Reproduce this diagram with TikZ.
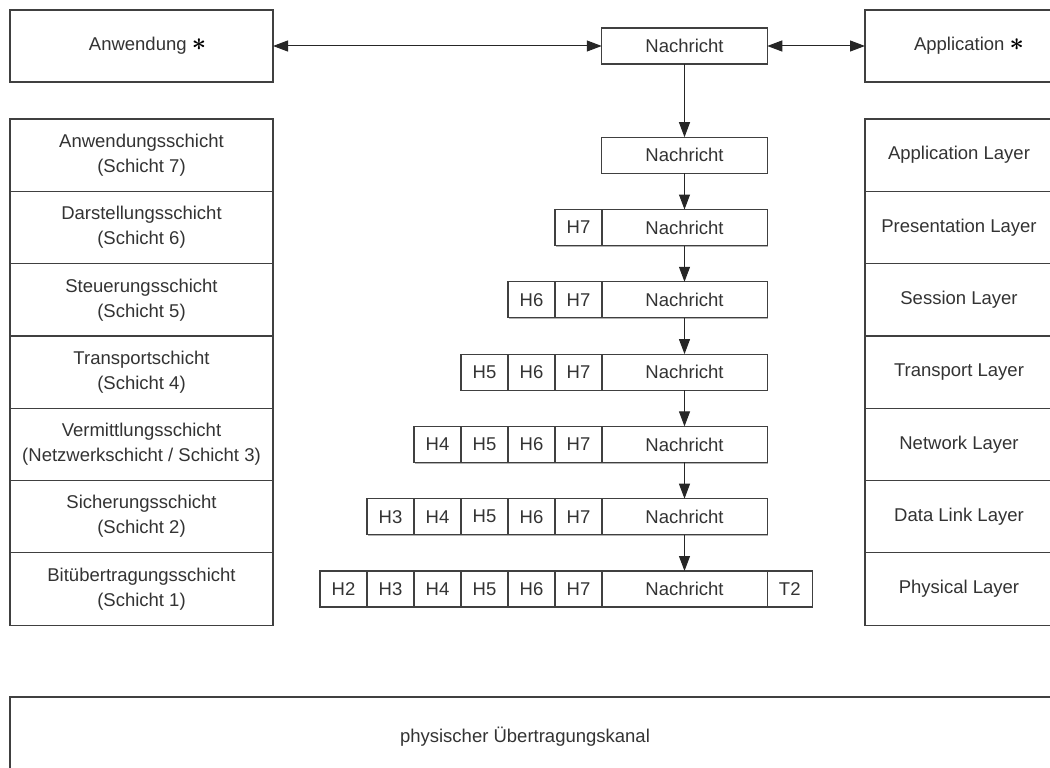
\documentclass[tikz,border=0pt]{standalone}
\usepackage{fontspec}
\setmainfont{Liberation Sans}
\usetikzlibrary{arrows.meta,%
                shadows,positioning}

\tikzset{
  box/.style={draw=black!75, line width=1.2pt, fill=white, inner sep=0pt, outer sep=0pt,
              text=black!80, align=center,
              drop shadow={shadow xshift=1.2pt, shadow yshift=-1.2pt, fill=black!30, opacity=1}},
  layer/.style={box, minimum height=72.3},
  cell/.style={box, minimum height=36},
  arr/.style={-{Triangle[length=15pt,width=11pt]}, line width=1pt, draw=black!85},
  arrboth/.style={{Triangle[length=15pt,width=11pt]}-{Triangle[length=15pt,width=11pt]}, line width=1pt, draw=black!85}
}
\newcommand{\stern}{\textcolor{black}{\fontsize{24}{24}\selectfont\boldmath$\ast$}}

\begin{document}
\begin{tikzpicture}[x=1pt,y=-1pt,font=\fontsize{18.5}{25}\selectfont]
\useasboundingbox (0,0) rectangle (1050,768);
\clip (0,0) rectangle (1050,768);

% oben
\node[box, minimum width=263, minimum height=72] (anw) at (141.5,46) {\hspace*{12pt}Anwendung \stern};
\node[cell, minimum width=165.5] (msg) at (684.5,46) {Nachricht};
\node[box, minimum width=188, minimum height=72, anchor=west] (app) at (865,46) {\hspace*{20pt}Application \stern};

% Schichten links und rechts
\foreach \k/\de/\en [count=\i from 0] in {%
  7/{Anwendungsschicht\\(Schicht 7)}/Application Layer,
  6/{Darstellungsschicht\\(Schicht 6)}/Presentation Layer,
  5/{Steuerungsschicht\\(Schicht 5)}/Session Layer,
  4/{Transportschicht\\(Schicht 4)}/Transport Layer,
  3/{Vermittlungsschicht\\(Netzwerkschicht / Schicht 3)}/Network Layer,
  2/{Sicherungsschicht\\(Schicht 2)}/Data Link Layer,
  1/{Bitübertragungsschicht\\(Schicht 1)}/Physical Layer}
{
  \node[layer, minimum width=263] (L\k) at (141.5,155.2+72.3*\i) {\de};
  \node[layer, minimum width=188, anchor=west] (R\k) at (865,155.2+72.3*\i) {\en};
  \node[cell, minimum width=165.5] (N\k) at (684.5,155.2+72.3*\i) {Nachricht};
}

% Header
\foreach \k in {1,...,6}
{
  \foreach \j in {\k,...,6}
  {
    \pgfmathtruncatemacro\h{\j+1}
    \node[cell, minimum width=47] (H\k-\h) at (578.5-47*6+47*\j,155.2+72.3*7-72.3*\k) {H\h};
  }
}
\node[cell, minimum width=45, right=0pt of N1] (T2) {T2};

% Pfeile
\draw[arrboth] (anw) -- (msg);
\draw[arrboth] (msg) -- (app);
\draw[arr] (msg) -- (N7);
\foreach \a/\b in {7/6,6/5,5/4,4/3,3/2,2/1}
  \draw[arr] (N\a) -- (N\b);

% Kanal
\node[box, minimum width=1100, minimum height=110, anchor=north west] (kanal) at (10,697) {};
\node[text=black!80] (kanaltext) at (525,737) {physischer Übertragungskanal};
\end{tikzpicture}
\end{document}
